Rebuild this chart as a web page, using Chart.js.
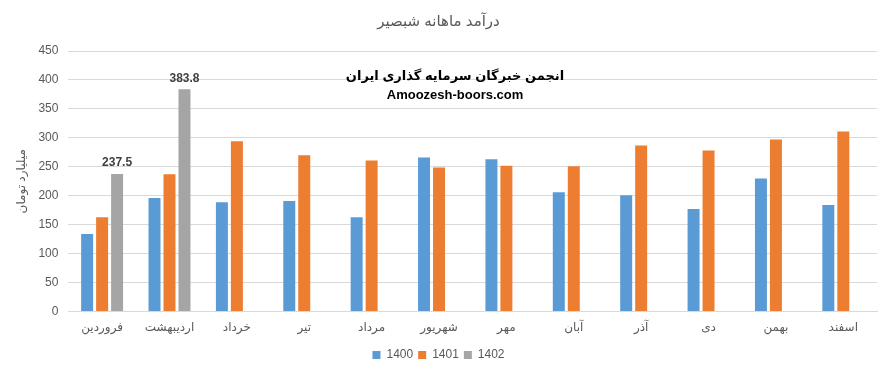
<!DOCTYPE html>
<html>
<head>
<meta charset="utf-8">
<script src="https://cdn.jsdelivr.net/npm/chart.js@4"></script>
<style>
  html, body { margin: 0; padding: 0; background: #fff; }
  #wrap { width: 890px; height: 371px; position: relative; }
</style>
</head>
<body>
<div id="wrap"><canvas id="chart" width="890" height="371"></canvas></div>
<script>
// monthly revenue, billion toman
const months = ['فروردین', 'اردیبهشت', 'خرداد', 'تیر', 'مرداد', 'شهریور', 'مهر', 'آبان', 'آذر', 'دی', 'بهمن', 'اسفند'];
const rev1400 = [134, 196, 189, 191, 163, 266, 263, 206, 201, 177, 230, 184];
const rev1401 = [163, 237, 294, 270, 261, 249, 252, 251, 287, 278, 297, 311];
const rev1402 = [237.5, 383.8, null, null, null, null, null, null, null, null, null, null];
const yTicks = [0, 50, 100, 150, 200, 250, 300, 350, 400, 450];

const FONT = '"Liberation Sans", "DejaVu Sans", sans-serif';

// labels above the 1402 bars + watermark text
const extras = {
  id: 'extras',
  afterDatasetsDraw(chart) {
    const ctx = chart.ctx;
    const meta = chart.getDatasetMeta(2);
    ctx.save();
    ctx.font = 'bold 12px ' + FONT;
    ctx.fillStyle = '#404040';
    ctx.textAlign = 'center';
    ctx.textBaseline = 'bottom';
    meta.data.forEach((bar, i) => {
      const v = rev1402[i];
      if (v == null) return;
      ctx.fillText(v.toFixed(1), bar.x, bar.y - 5);
    });

    ctx.fillStyle = '#000';
    ctx.font = 'bold 13px ' + FONT;
    ctx.textBaseline = 'middle';
    ctx.fillText('انجمن خبرگان سرمایه گذاری ایران', 455, 76);
    ctx.fillText('Amoozesh-boors.com', 455, 95);
    ctx.restore();
  }
};

new Chart(document.getElementById('chart'), {
  type: 'bar',
  data: {
    labels: months,
    datasets: [
      { label: '1400', data: rev1400, backgroundColor: '#5b9bd5' },
      { label: '1401', data: rev1401, backgroundColor: '#ed7d31' },
      { label: '1402', data: rev1402, backgroundColor: '#a5a5a5' }
    ]
  },
  options: {
    responsive: false,
    animation: false,
    categoryPercentage: 0.667,
    barPercentage: 0.8,
    layout: { padding: { left: 0, right: 13, top: 0, bottom: 0 } },
    scales: {
      x: {
        grid: { display: true, drawOnChartArea: false, drawTicks: false },
        border: { color: '#d9d9d9' },
        ticks: { color: '#595959', font: { family: FONT, size: 12 }, padding: 9 }
      },
      y: {
        min: 0,
        max: 450,
        afterBuildTicks(axis) { axis.ticks = yTicks.map(v => ({ value: v })); },
        grid: { color: '#d9d9d9', drawTicks: false },
        border: { display: false },
        ticks: { color: '#595959', font: { family: FONT, size: 12 }, padding: 10 },
        title: {
          display: true,
          text: 'میلیارد تومان',
          color: '#595959',
          font: { family: FONT, size: 12 },
          padding: { top: 14, bottom: 0 }
        }
      }
    },
    plugins: {
      title: {
        display: true,
        text: 'درآمد ماهانه شبصیر',
        color: '#595959',
        font: { family: FONT, size: 15, weight: 'normal' },
        padding: { top: 13, bottom: 20 }
      },
      legend: {
        position: 'bottom',
        labels: {
          color: '#595959',
          font: { family: FONT, size: 12 },
          boxWidth: 8,
          boxHeight: 8,
          padding: 5
        }
      },
      tooltip: { enabled: false }
    }
  },
  plugins: [extras]
});
</script>
</body>
</html>
